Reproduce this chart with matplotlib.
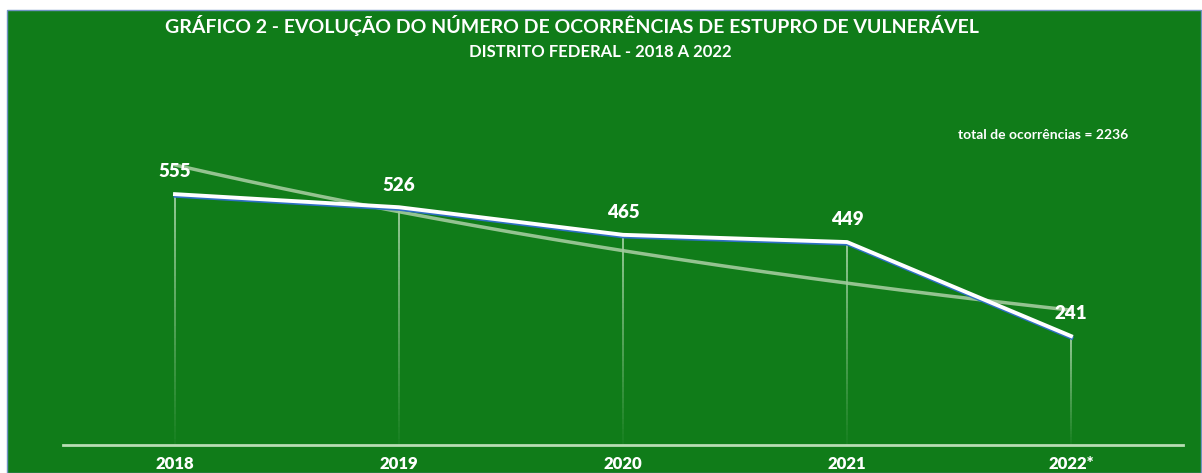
import numpy as np
import matplotlib
matplotlib.use("Agg")
import matplotlib.pyplot as plt
import matplotlib.patheffects as pe
from matplotlib.patches import Rectangle
from matplotlib.collections import LineCollection

# data
anos = ["2018", "2019", "2020", "2021", "2022*"]
ocorrencias = [555, 526, 465, 449, 241]
total_label = "total de ocorrências = 2236"
titulo_1 = "GRÁFICO 2 - EVOLUÇÃO DO NÚMERO DE OCORRÊNCIAS DE ESTUPRO DE VULNERÁVEL"
titulo_2 = "DISTRITO FEDERAL - 2018 A 2022"

BG = "#107C19"
W, H = 1202, 473

plt.rcParams["font.family"] = ["Lato", "DejaVu Sans"]

fig = plt.figure(figsize=(W / 100, H / 100), dpi=100, facecolor="white")
fig.patches.append(Rectangle((7 / W, 0), (1201 - 7) / W, (H - 10) / H,
                             transform=fig.transFigure, facecolor=BG,
                             edgecolor="#6F93C2", linewidth=1, zorder=-10))

# axes placed so that 0 sits at y=445 px
ax = fig.add_axes([63 / W, 28 / H, 1120 / W, 361.6 / H])
ax.set_facecolor("none")
ax.set_xlim(0.5, 5.5)
ax.set_ylim(0, 800)
for s in ax.spines.values():
    s.set_visible(False)
ax.axhline(0, color="#B9DDB4", lw=2, zorder=2, clip_on=False)

x = np.arange(1, len(anos) + 1)
y = np.array(ocorrencias)

# drop lines, fading towards the base
n = 40
for xi, yi in zip(x, y):
    ys = np.linspace(0, yi, n + 1)
    segs = [[(xi, ys[i]), (xi, ys[i + 1])] for i in range(n)]
    alphas = np.linspace(0.05, 0.85, n)
    cols = [(0.78, 0.90, 0.77, a) for a in alphas]
    ax.add_collection(LineCollection(segs, colors=cols, linewidths=1.2, zorder=1))

# exponential trend line
b, a = np.polyfit(x, np.log(y), 1)
xt = np.linspace(1, 5, 200)
ax.plot(xt, np.exp(a + b * xt), color="#A3CB9E", lw=2.5, alpha=0.9,
        zorder=3, solid_capstyle="round", clip_on=False)

# main line with blue edge
ax.plot(x, y, color="white", lw=2.8, zorder=4, clip_on=False,
        path_effects=[pe.SimpleLineShadow(offset=(0.3, -1.2),
                                          shadow_color="#2F6FC4", alpha=1),
                      pe.Normal()])

for xi, yi in zip(x, y):
    ax.annotate(str(yi), (xi, yi), xytext=(0, 16), textcoords="offset points",
                ha="center", va="center", color="white", fontsize=13.5,
                fontweight="heavy", zorder=5)

ax.set_xticks(x)
ax.set_xticklabels(anos, color="white", fontsize=12, fontweight="heavy")
ax.tick_params(axis="x", length=0, pad=8)
ax.set_yticks([])

fig.text(572 / W, 1 - 25 / H, titulo_1, ha="center", va="center",
         color="white", fontsize=14, fontweight="bold")
fig.text(600 / W, 1 - 52 / H, titulo_2, ha="center", va="center",
         color="white", fontsize=12, fontweight="bold")
fig.text(1043 / W, 1 - 135 / H, total_label, ha="center", va="center",
         color="white", fontsize=10, fontweight="bold")

fig.savefig("out.png", dpi=100, facecolor="white")
